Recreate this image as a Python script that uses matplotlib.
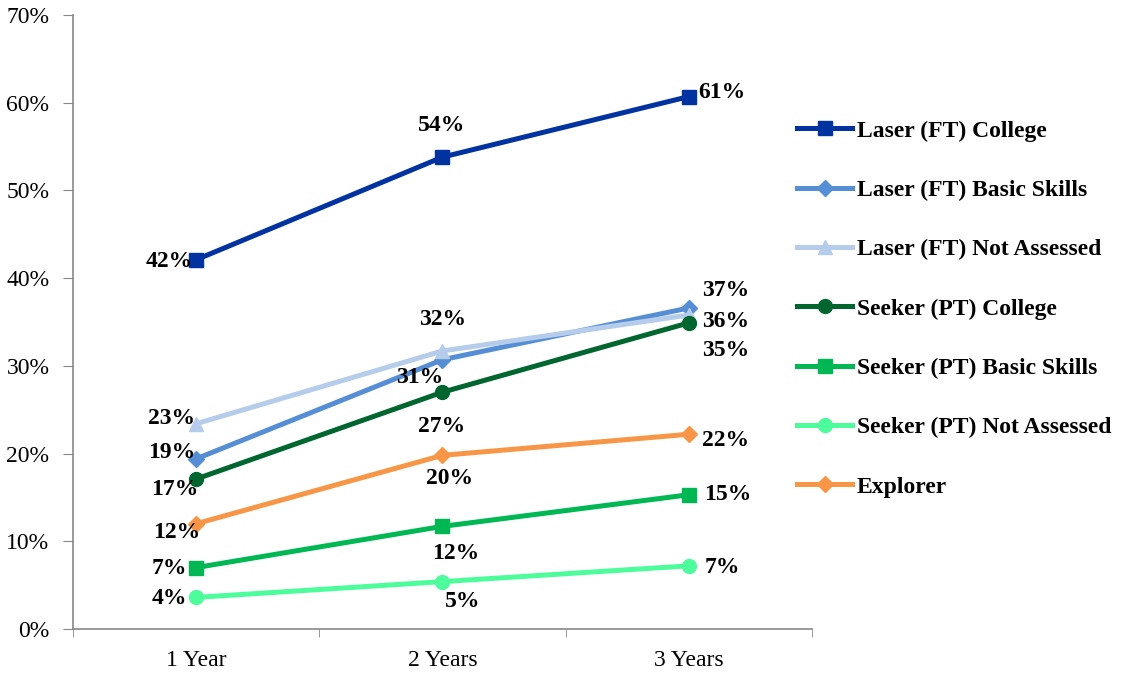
import matplotlib
matplotlib.use('Agg')
from matplotlib import pyplot as plt
from matplotlib.ticker import PercentFormatter, FixedLocator
import numpy as np

plt.rcParams['font.family'] = ['Liberation Serif', 'DejaVu Serif']

years = ['1 Year', '2 Years', '3 Years']

laser_college = [0.421, 0.538, 0.607]
laser_basic = [0.194, 0.307, 0.366]
laser_na = [0.234, 0.317, 0.358]
seeker_college = [0.171, 0.270, 0.349]
seeker_basic = [0.070, 0.117, 0.153]
seeker_na = [0.036, 0.054, 0.072]
explorer = [0.120, 0.198, 0.222]

names = ['Laser (FT) College', 'Laser (FT) Basic Skills', 'Laser (FT) Not Assessed',
         'Seeker (PT) College', 'Seeker (PT) Basic Skills', 'Seeker (PT) Not Assessed',
         'Explorer']
series = [laser_college, laser_basic, laser_na, seeker_college, seeker_basic,
          seeker_na, explorer]

# line style per series: colour, marker, marker size
styles = [('#0033a0', 's', 10),
          ('#558ed5', 'D', 8),
          ('#b5cdea', '^', 10),
          ('#00662f', 'o', 10),
          ('#00b853', 's', 10),
          ('#4dfd9b', 'o', 10),
          ('#f79646', 'D', 8)]

# value label offsets in pixels, one row per series, one pair per year
offsets = [[(-27, -2), (-1, 32), (33, 4)],
           [(-24, 6), (-23, -18), (37, 17)],
           [(-25, 5), (0, 31), (37, -7)],
           [(-21, -11), (-1, -34), (37, -28)],
           [(-27, -1), (13, -27), (39, 0)],
           [(-27, -1), (20, -20), (34, -2)],
           [(-19, -9), (7, -23), (37, -6)]]

fig = plt.figure(figsize=(11.23, 6.73), dpi=100)
ax = fig.add_axes([0.065, 0.0654, 0.658, 0.9123])
x = np.arange(len(years))

for name, vals, (col, mk, ms), offs in zip(names, series, styles, offsets):
    ax.plot(x, vals, color=col, marker=mk, markersize=ms, linewidth=3.6,
            label=name)
    for xi, v, (dx, dy) in zip(x, vals, offs):
        ax.annotate(f'{v:.0%}', (xi, v), xytext=(dx, dy), textcoords='offset pixels',
                    ha='center', va='center', fontsize=17, fontweight='bold')

ax.set_xlim(-0.5, 2.5)
ax.set_ylim(0, 0.7)
ax.set_yticks(np.arange(0, 0.71, 0.1))
ax.yaxis.set_major_formatter(PercentFormatter(1.0, decimals=0))
ax.set_xticks(x)
ax.set_xticklabels(years)
ax.xaxis.set_minor_locator(FixedLocator([-0.5, 0.5, 1.5, 2.5]))
ax.tick_params(axis='x', which='major', length=0, pad=15, labelsize=17)
ax.tick_params(axis='x', which='minor', length=6, color='#888888')
ax.tick_params(axis='y', length=7, pad=10, color='#888888', labelsize=17)

for side in ['top', 'right']:
    ax.spines[side].set_visible(False)
for side in ['left', 'bottom']:
    ax.spines[side].set_color('#888888')
    ax.spines[side].set_linewidth(1.2)

fig.legend(loc='upper left', bbox_to_anchor=(0.691, 0.853), frameon=False,
           prop={'weight': 'bold', 'size': 17}, handlelength=2.33,
           handletextpad=0.2, labelspacing=1.6)

fig.savefig('out.png', dpi=100)
